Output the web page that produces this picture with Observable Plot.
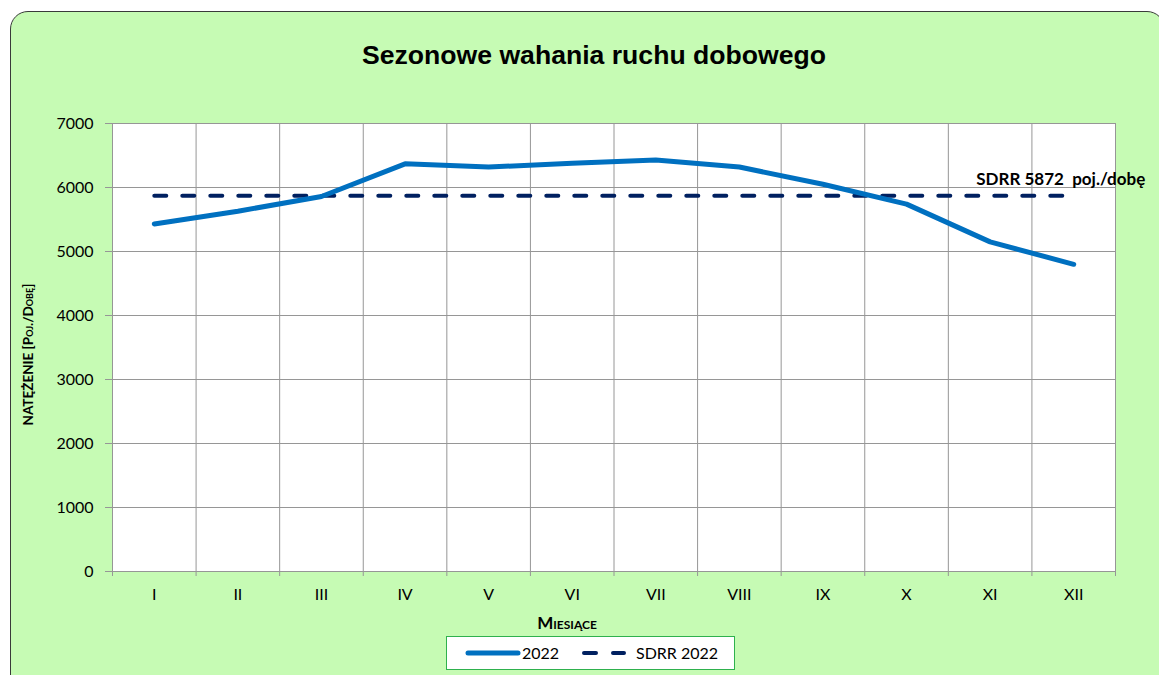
<!DOCTYPE html>
<html><head><meta charset="utf-8">
<script src="https://cdn.jsdelivr.net/npm/d3@7"></script>
<script src="https://cdn.jsdelivr.net/npm/@observablehq/plot@0.6"></script>
<style>
html,body{margin:0;padding:0}
body{background:#fff;width:1159px;height:675px;overflow:hidden;position:relative;font-family:Lato,"Open Sans",sans-serif}
#bg{position:absolute;left:10px;top:11px;width:1155px;height:720px;background:#c6fbb4;border:1.5px solid #3a3a3a;border-radius:18px;box-sizing:border-box}
#title{position:absolute;left:0;width:1188px;top:40px;text-align:center;font:bold 26.6px "Liberation Sans",Arial,sans-serif;color:#000}
#chart{position:absolute;left:0;top:0}
#legend{position:absolute;left:446px;top:636px;width:289px;height:34px;background:#fff;border:1.5px solid #2eb14d;box-sizing:border-box;font:16px Lato,sans-serif;color:#000}
#legend .item{position:absolute;top:6px;line-height:20px}
#legend svg{position:absolute;top:0;left:0}
</style>
</head><body>
<div id="bg"></div>
<div id="title">Sezonowe wahania ruchu dobowego</div>
<div id="chart"></div>
<div id="legend">
  <svg width="289" height="34">
    <line x1="21" y1="16" x2="71" y2="16" stroke="#0070c0" stroke-width="5" stroke-linecap="round"/>
    <line x1="137" y1="16" x2="177" y2="16" stroke="#002060" stroke-width="4" stroke-linecap="round" stroke-dasharray="12 17"/>
  </svg>
  <span class="item" style="left:75px">2022</span>
  <span class="item" style="left:189px">SDRR 2022</span>
</div>
<script>
const months = ["I","II","III","IV","V","VI","VII","VIII","IX","X","XI","XII"];
const traffic2022 = [5430, 5630, 5860, 6370, 6320, 6380, 6430, 6320, 6050, 5740, 5150, 4800];
const sdrrValue = 5872;
const yTicks = [0, 1000, 2000, 3000, 4000, 5000, 6000, 7000];
const yLabel = "NATĘŻENIE [Poj./Dobę]";
const xLabel = "Miesiące";

const pts = months.map((m, i) => ({month: m, pos: i + 0.5, value: traffic2022[i]}));
const sdrrPts = months.map((m, i) => ({month: m, pos: i + 0.5, value: sdrrValue}));
const edges = d3.range(months.length + 1);
const grid = "#969696";

const chart = Plot.plot({
  width: 1159, height: 675,
  marginLeft: 112, marginRight: 44, marginTop: 123, marginBottom: 104,
  style: {background: "transparent", fontFamily: "Lato, sans-serif", fontSize: "16px", color: "#000", overflow: "visible"},
  x: {domain: [0, months.length]},
  y: {domain: [0, 7000]},
  marks: [
    Plot.frame({fill: "white", stroke: grid}),
    Plot.gridY(yTicks, {stroke: grid, strokeOpacity: 1}),
    Plot.gridX(edges, {stroke: grid, strokeOpacity: 1}),
    Plot.axisY(yTicks, {tickSize: 7, tickPadding: 12, stroke: grid, label: null, tickFormat: d => String(d)}),
    Plot.axisX(edges, {tickSize: 5, stroke: grid, tickFormat: () => "", label: null}),
    Plot.axisX(pts.map(d => d.pos), {tickSize: 0, tickPadding: 17, tickFormat: d => months[Math.floor(d)], label: null}),
    Plot.text([yLabel], {frameAnchor: "left", textAnchor: "middle", text: d => d, rotate: -90, dx: -84, dy: 7, fontWeight: "bold", fontVariant: "small-caps", fontSize: 13.5}),
    Plot.text([xLabel], {frameAnchor: "bottom", text: d => d, dx: -47, dy: 57, fontWeight: "bold", fontVariant: "small-caps", fontSize: 17}),
    Plot.lineY(sdrrPts, {x: "pos", y: "value", stroke: "#002060", strokeWidth: 4, strokeDasharray: "12 16", strokeLinecap: "round"}),
    Plot.lineY(pts, {x: "pos", y: "value", stroke: "#0070c0", strokeWidth: 5, strokeLinecap: "round", strokeLinejoin: "round"}),
    Plot.text([sdrrPts[sdrrPts.length - 1]], {x: "pos", y: "value", text: () => `SDRR ${sdrrValue}  poj./dobę`, dx: -13, dy: -16, fontWeight: "bold", fontSize: 17})
  ]
});
document.getElementById("chart").appendChild(chart);
</script>
</body></html>
